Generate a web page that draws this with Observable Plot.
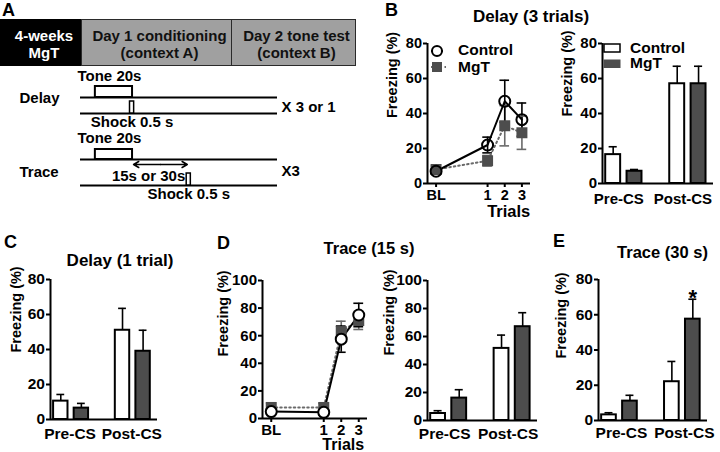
<!DOCTYPE html>
<html>
<head>
<meta charset="utf-8">
<script src="https://cdn.jsdelivr.net/npm/d3@7"></script>
<script src="https://cdn.jsdelivr.net/npm/@observablehq/plot@0.6"></script>
<style>
  html, body { margin: 0; padding: 0; background: #fff; }
  #fig { position: relative; width: 720px; height: 452px; overflow: hidden; background: #fff;
         font-family: "Liberation Sans", Arial, Helvetica, sans-serif; font-weight: bold; color: #000; }
  #fig .t { position: absolute; white-space: nowrap; line-height: 1; }
  #fig svg { position: absolute; overflow: visible; }
</style>
</head>
<body>
<div id="fig"></div>
<script>
// ================= DATA =================
const groups = ["Control", "MgT"];
const phases = ["Pre-CS", "Post-CS"];
const trialLabels = ["BL", "1", "2", "3"];
const ticks80 = [0, 20, 40, 60, 80];
const ticks100 = [0, 20, 40, 60, 80, 100];

// Panel B – Delay (3 trials): conditioning curve (mean, SEM)
const bTrialControl = [7, 22, 47, 36.5];
const bTrialControlSem = [1.5, 4.5, 12, 9.5];
const bTrialMgT = [8, 13, 33, 29];
const bTrialMgTSem = [2, 3, 11.5, 9.5];
// Panel B – tone test
const bToneControl = [16.5, 57];
const bToneControlSem = [4.5, 10];
const bToneMgT = [7, 57];
const bToneMgTSem = [1, 10];

// Panel C – Delay (1 trial) tone test
const cToneControl = [10.5, 51];
const cToneControlSem = [3.8, 12.5];
const cToneMgT = [6.5, 39];
const cToneMgTSem = [2.7, 12];

// Panel D – Trace (15 s)
const dTrialControl = [5, 4.5, 57.5, 75];
const dTrialControlSem = [2, 2, 9.5, 8.5];
const dTrialMgT = [8, 8, 63, 71];
const dTrialMgTSem = [3, 3, 7.5, 6.5];
const dToneControl = [5, 51.5];
const dToneControlSem = [2, 9.5];
const dToneMgT = [16, 67];
const dToneMgTSem = [6, 10];

// Panel E – Trace (30 s)
const eToneControl = [3.2, 22];
const eToneControlSem = [1.2, 11.5];
const eToneMgT = [11, 57.5];
const eToneMgTSem = [3.3, 11.3];
const eSignificant = [{phase: "Post-CS", group: "MgT", mark: "*"}];

// Panel A – protocol schematic
const stages = [["4-weeks", "MgT"], ["Day 1 conditioning", "(context A)"], ["Day 2 tone test", "(context B)"]];
const protocols = ["Delay", "Trace"];
const repeats = ["X 3 or 1", "X3"];
const toneSeconds = 20;
const shockSeconds = 0.5;
const traceIntervals = [15, 30];

// ================= HELPERS =================
const FONT = '"Liberation Sans", Arial, Helvetica, sans-serif';
const DARK = "#4d4d4d";
const MGT_LINE = "#6a6a6a";
const YLABEL = 14.5;
const fig = document.getElementById("fig");

function put(node, left, top) {
  node.style.position = "absolute";
  node.style.left = left + "px";
  node.style.top = top + "px";
  fig.appendChild(node);
  return node;
}
function label(str, x, yc, size, {anchor = "start", color = "#000", spacing = 0} = {}) {
  const d = document.createElement("div");
  d.className = "t";
  d.textContent = str;
  d.style.fontSize = size + "px";
  d.style.color = color;
  if (spacing) d.style.letterSpacing = spacing + "px";
  d.style.top = (yc - 0.4885 * size) + "px";
  d.style.left = x + "px";
  if (anchor === "middle") d.style.transform = "translateX(-50%)";
  fig.appendChild(d);
  return d;
}
function baseStyle(size) {
  return {fontFamily: FONT, fontWeight: "bold", fontSize: size + "px", color: "#000", background: "transparent", overflow: "visible"};
}

// ================= PANEL A =================
(function panelA() {
  const edges = [0, 81, 231, 355];
  const top = 19, h = 47;
  stages.forEach((s, i) => {
    const b = document.createElement("div");
    b.style.cssText = `position:absolute;box-sizing:border-box;left:${edges[i]}px;top:${top}px;width:${edges[i + 1] - edges[i] + (i ? 1 : 0)}px;height:${h}px;` +
      (i === 0 ? "background:#000;" : "background:#a0a0a0;border:1.5px solid #2a2a2a;");
    fig.appendChild(b);
    const cx = (edges[i] + edges[i + 1]) / 2 + 3.5;
    label(s[0], cx, 35, 15, {anchor: "middle", color: i === 0 ? "#fff" : "#111"});
    label(s[1], cx, 52, 15, {anchor: "middle", color: i === 0 ? "#fff" : "#111"});
  });

  // schematic: x in seconds from tone onset, y = vertical layout offset (px) inside the drawing
  const tl = [-8, 98];
  const traceGap = d3.max(traceIntervals);
  const layout = {
    Delay: {tone: 31, toneH: 11, shock: 47, shockH: 12, shockAt: toneSeconds - shockSeconds, name: 31.5, rep: 40.5, toneTxt: 10, shockTxt: 56},
    Trace: {tone: 93, toneH: 10, shock: 119, shockH: 12, shockAt: toneSeconds + traceGap, name: 106, rep: 105, toneTxt: 72, shockTxt: 128}
  };
  const baselines = protocols.flatMap(p => [{y: layout[p].tone}, {y: layout[p].shock}]);
  const tones = protocols.map(p => ({start: 0, end: toneSeconds, y1: layout[p].tone, y2: layout[p].tone - layout[p].toneH}));
  const shocks = protocols.map(p => ({start: layout[p].shockAt, end: layout[p].shockAt + shockSeconds, y1: layout[p].shock, y2: layout[p].shock - layout[p].shockH}));
  const arrowY = 98;
  const mid = toneSeconds + traceGap / 2;
  const chart = Plot.plot({
    width: 360, height: 140, marginTop: 0, marginBottom: 0, marginLeft: 80, marginRight: 83,
    style: baseStyle(15),
    x: {domain: tl, axis: null},
    y: {domain: [0, 140], reverse: true, axis: null},
    marks: [
      Plot.ruleY(baselines, {y: "y", x1: tl[0], x2: tl[1], stroke: "#000", strokeWidth: 2}),
      Plot.rect(tones, {x1: "start", x2: "end", y1: "y1", y2: "y2", fill: "#fff", stroke: "#000", strokeWidth: 2}),
      Plot.rect(shocks, {x1: "start", x2: "end", y1: "y1", y2: "y2", insetLeft: -1.6, insetRight: -1.6, fill: "#fff", stroke: "#000", strokeWidth: 1.5}),
      Plot.arrow([{a: mid, b: toneSeconds}, {a: mid, b: toneSeconds + traceGap}], {x1: "a", x2: "b", y1: arrowY, y2: arrowY, headLength: 6, insetEnd: 1, stroke: "#000", strokeWidth: 1.5}),
      Plot.text(protocols, {x: tl[0], y: p => layout[p].toneTxt, text: () => `Tone ${toneSeconds}s`, textAnchor: "start", dx: -3, lineAnchor: "middle", fontSize: 15}),
      Plot.text(protocols, {frameAnchor: "left", y: p => layout[p].name, text: p => p, textAnchor: "start", dx: -61, lineAnchor: "middle", fontSize: 15}),
      Plot.text(protocols, {x: tl[1], y: p => layout[p].rep, text: (p, i) => repeats[i], textAnchor: "start", dx: 4, lineAnchor: "middle", fontSize: 15}),
      Plot.text(protocols, {x: p => layout[p].shockAt + shockSeconds / 2, y: p => layout[p].shockTxt, text: () => `Shock ${shockSeconds} s`, textAnchor: "middle", lineAnchor: "middle", fontSize: 15}),
      Plot.text([traceIntervals.map(v => v + "s").join(" or ")], {x: toneSeconds + traceGap, y: 110, text: d => d, textAnchor: "end", dx: -3, lineAnchor: "middle", fontSize: 15})
    ]
  });
  put(chart, 0, 66);
})();

// ================= BAR CHARTS =================
const BAR_W = 0.7;
const X_BAR = [-0.15, 5.05];
function barRows(ctrl, ctrlSem, mgt, mgtSem) {
  const src = {Control: [ctrl, ctrlSem], MgT: [mgt, mgtSem]};
  return phases.flatMap((phase, i) => groups.map((group, j) => ({
    phase, group, slot: i * 3 + j, value: src[group][0][i], sem: src[group][1][i]
  })));
}
function barChart({rows, yMax, ticks, box, margin, tickFont, labelDx, labelDy, catDy, catDx = 0, stars = []}) {
  const center = d => d.slot + BAR_W / 2;
  const starRows = stars.map(s => ({...rows.find(r => r.phase === s.phase && r.group === s.group), mark: s.mark}));
  const chart = Plot.plot({
    width: box[2], height: box[3],
    marginTop: margin[0], marginRight: margin[1], marginBottom: margin[2], marginLeft: margin[3],
    style: baseStyle(tickFont),
    x: {domain: X_BAR, axis: null},
    y: {domain: [0, yMax]},
    marks: [
      Plot.ruleX(rows, {x: center, y1: "value", y2: d => d.value + d.sem, stroke: "#000", strokeWidth: 1.6}),
      Plot.ruleY(rows, {y: d => d.value + d.sem, x1: d => center(d) - 0.19, x2: d => center(d) + 0.19, stroke: "#000", strokeWidth: 1.6}),
      Plot.rect(rows, {x1: "slot", x2: d => d.slot + BAR_W, y1: () => 0, y2: "value", fill: d => d.group === "MgT" ? DARK : "#fff", stroke: "#000", strokeWidth: 2}),
      Plot.ruleY([0], {stroke: "#000", strokeWidth: 2}),
      Plot.ruleX([X_BAR[0]], {stroke: "#000", strokeWidth: 2}),
      Plot.axisY({ticks, tickSize: 4, tickPadding: 1.5, strokeWidth: 2, label: null, fontSize: tickFont}),
      Plot.text(phases, {x: (p, i) => i * 3 + (1 + BAR_W) / 2, frameAnchor: "bottom", dy: catDy, dx: catDx, lineAnchor: "middle", text: d => d, fontSize: tickFont}),
      Plot.text(["Freezing (%)"], {frameAnchor: "left", rotate: -90, dx: labelDx, dy: labelDy, text: d => d, fontSize: YLABEL, lineAnchor: "middle"}),
      Plot.text(starRows, {x: center, y: d => d.value + d.sem, text: "mark", fontSize: 22, dy: -1, lineAnchor: "middle"})
    ]
  });
  put(chart, box[0], box[1]);
}

// ================= LINE CHARTS =================
const BL_POS = -2;
const trialPos = trialLabels.map(t => t === "BL" ? BL_POS : +t);
const X_LINE = [-2.5, 3.5];
function trialRows(vals, sems, group) {
  return trialLabels.map((t, i) => ({trial: t, x: trialPos[i], value: vals[i], sem: sems[i], group}));
}
function lineChart({ctrl, mgt, yMax, ticks, box, margin, tickFont, labelDx, labelDy, circleFill, trialsDx, trialsDy, trialsFont = 16.5}) {
  const all = mgt.concat(ctrl);
  const errColor = d => d.group === "MgT" ? MGT_LINE : "#000";
  const capW = 0.28;
  const chart = Plot.plot({
    width: box[2], height: box[3],
    marginTop: margin[0], marginRight: margin[1], marginBottom: margin[2], marginLeft: margin[3],
    style: baseStyle(tickFont),
    x: {domain: X_LINE},
    y: {domain: [0, yMax]},
    marks: [
      Plot.ruleX(all, {x: "x", y1: d => d.value - d.sem, y2: d => d.value + d.sem, stroke: errColor, strokeWidth: 1.6}),
      Plot.ruleY(all, {y: d => d.value + d.sem, x1: d => d.x - capW, x2: d => d.x + capW, stroke: errColor, strokeWidth: 1.6}),
      Plot.ruleY(all, {y: d => d.value - d.sem, x1: d => d.x - capW, x2: d => d.x + capW, stroke: errColor, strokeWidth: 1.6}),
      Plot.line(mgt, {x: "x", y: "value", stroke: MGT_LINE, strokeWidth: 2, strokeDasharray: "1.5,3"}),
      Plot.line(ctrl, {x: "x", y: "value", stroke: "#000", strokeWidth: 2}),
      Plot.dot(mgt, {x: "x", y: "value", r: 6.2, symbol: "square", fill: DARK, stroke: "none"}),
      Plot.dot(ctrl, {x: "x", y: "value", r: 5.5, symbol: "circle", fill: circleFill, stroke: "#000", strokeWidth: 2}),
      Plot.ruleY([0], {stroke: "#000", strokeWidth: 2}),
      Plot.ruleX([X_LINE[0]], {stroke: "#000", strokeWidth: 2}),
      Plot.axisY({ticks, tickSize: 4, tickPadding: 1.5, strokeWidth: 2, label: null, fontSize: tickFont}),
      Plot.axisX({ticks: trialPos, tickFormat: d => trialLabels[trialPos.indexOf(d)], tickSize: 4, tickPadding: 2, strokeWidth: 2, label: null, fontSize: tickFont}),
      Plot.text(["Trials"], {x: () => 2, frameAnchor: "bottom", dx: trialsDx, dy: trialsDy, text: d => d, fontSize: trialsFont, lineAnchor: "middle"}),
      Plot.text(["Freezing (%)"], {frameAnchor: "left", rotate: -90, dx: labelDx, dy: labelDy, text: d => d, fontSize: YLABEL, lineAnchor: "middle"})
    ]
  });
  put(chart, box[0], box[1]);
}

// ================= PANEL B =================
lineChart({
  ctrl: trialRows(bTrialControl, bTrialControlSem, "Control"),
  mgt: trialRows(bTrialMgT, bTrialMgTSem, "MgT"),
  yMax: 80, ticks: ticks80, box: [360, 0, 175, 220], margin: [43, 5, 37, 67],
  tickFont: 14.5, labelDx: -35.5, labelDy: 4.5, circleFill: "none", trialsDx: 4, trialsDy: 28
});
barChart({
  rows: barRows(bToneControl, bToneControlSem, bToneMgT, bToneMgTSem),
  yMax: 80, ticks: ticks80, box: [560, 0, 160, 220], margin: [43, 7, 37, 42],
  tickFont: 15, labelDx: -35, labelDy: 3, catDy: 16, catDx: -5
});
// legends for B
(function legendsB() {
  const s1 = d3.create("svg").attr("width", 30).attr("height", 40);
  s1.append("line").attr("x1", 6).attr("x2", 18).attr("y1", 11).attr("y2", 11).attr("stroke", "#000").attr("stroke-width", 2);
  s1.append("circle").attr("cx", 12).attr("cy", 11).attr("r", 5).attr("fill", "#fff").attr("stroke", "#000").attr("stroke-width", 2);
  s1.append("line").attr("x1", 6).attr("x2", 21).attr("y1", 27).attr("y2", 27).attr("stroke", MGT_LINE).attr("stroke-width", 2).attr("stroke-dasharray", "1.5,3");
  s1.append("rect").attr("x", 7).attr("y", 22).attr("width", 10).attr("height", 10).attr("fill", DARK);
  put(s1.node(), 425, 40);
  label(groups[0], 458, 50, 15.5);
  label(groups[1], 458, 67, 15.5);

  const s2 = d3.create("svg").attr("width", 20).attr("height", 30);
  s2.append("rect").attr("x", 1).attr("y", 1).attr("width", 16).attr("height", 8).attr("fill", "#fff").attr("stroke", "#000").attr("stroke-width", 1.5);
  s2.append("rect").attr("x", 0.5).attr("y", 16.5).attr("width", 17).attr("height", 8.5).attr("fill", DARK);
  put(s2.node(), 603, 43);
  label(groups[0], 630, 48, 15.5);
  label(groups[1], 630, 63, 15.5);
})();

// ================= PANEL C =================
barChart({
  rows: barRows(cToneControl, cToneControlSem, cToneMgT, cToneMgTSem),
  yMax: 80, ticks: ticks80, box: [0, 220, 170, 232], margin: [59, 13, 33, 50],
  tickFont: 15.5, labelDx: -34.5, labelDy: 3, catDy: 15, catDx: -1
});

// ================= PANEL D =================
lineChart({
  ctrl: trialRows(dTrialControl, dTrialControlSem, "Control"),
  mgt: trialRows(dTrialMgT, dTrialMgTSem, "MgT"),
  yMax: 100, ticks: ticks100, box: [200, 220, 175, 232], margin: [60, 8, 34, 62],
  tickFont: 15, labelDx: -39, labelDy: 7, circleFill: "#fff", trialsDx: 2, trialsDy: 26.5, trialsFont: 16
});
barChart({
  rows: barRows(dToneControl, dToneControlSem, dToneMgT, dToneMgTSem),
  yMax: 100, ticks: ticks100, box: [370, 220, 175, 232], margin: [60, 8, 32, 57],
  tickFont: 15.5, labelDx: -38, labelDy: 5, catDy: 14, catDx: -4
});

// ================= PANEL E =================
barChart({
  rows: barRows(eToneControl, eToneControlSem, eToneMgT, eToneMgTSem),
  yMax: 80, ticks: ticks80, box: [540, 220, 180, 232], margin: [59, 13, 32, 58],
  tickFont: 15.5, labelDx: -37.5, labelDy: 8.5, catDy: 12.5, catDx: 2, stars: eSignificant
});

// ================= TITLES & PANEL LETTERS =================
label("Delay (3 trials)", 531, 16, 17, {anchor: "middle"});
label("Delay (1 trial)", 120, 260, 17, {anchor: "middle"});
label("Trace (15 s)", 369, 248.5, 16.5, {anchor: "middle"});
label("Trace (30 s)", 662.5, 252, 16.5, {anchor: "middle"});
[["A", 2, 9.5], ["B", 385, 9.5], ["C", 4, 241.5], ["D", 217, 242.5], ["E", 553, 241]].forEach(([t, x, y]) => label(t, x, y, 18));
</script>
</body>
</html>
